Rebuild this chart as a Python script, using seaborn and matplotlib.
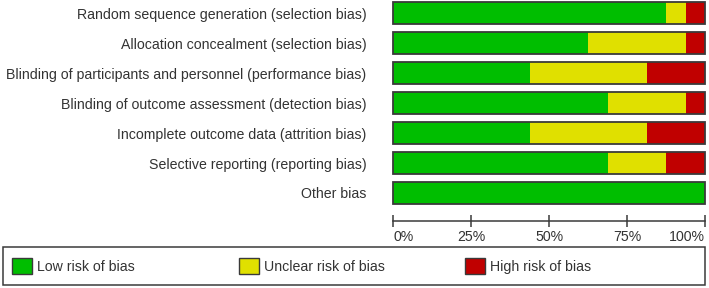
import numpy as np
import pandas as pd
import matplotlib
matplotlib.use("Agg")
import matplotlib.pyplot as plt
import matplotlib.patches as mpatches
import seaborn as sns

# ================= DADOS =================
dominios = [
    "Random sequence generation (selection bias)",
    "Allocation concealment (selection bias)",
    "Blinding of participants and personnel (performance bias)",
    "Blinding of outcome assessment (detection bias)",
    "Incomplete outcome data (attrition bias)",
    "Selective reporting (reporting bias)",
    "Other bias",
]
# numero de estudos (n = 16) por julgamento
baixo = [14, 10, 7, 11, 7, 11, 16]
incerto = [1, 5, 6, 4, 6, 3, 0]
alto = [1, 1, 3, 1, 3, 2, 0]

categorias = ["Low risk of bias", "Unclear risk of bias", "High risk of bias"]
cores = ["#00BE00", "#E0E000", "#C00000"]
ticks = [0, 25, 50, 75, 100]

# ================= FIGURA =================
sns.set_theme(style="white")
plt.rcParams["font.family"] = ["Liberation Sans", "DejaVu Sans"]
COR_TEXTO = "#333333"
COR_BORDA = "#3a3a3a"
FONTE = 10.2

df = pd.DataFrame({"dominio": dominios, "baixo": baixo, "incerto": incerto, "alto": alto})
total = df[["baixo", "incerto", "alto"]].sum(axis=1)
df["p_baixo"] = df["baixo"] / total * 100
df["p_incerto"] = (df["baixo"] + df["incerto"]) / total * 100
df["p_total"] = (df["baixo"] + df["incerto"] + df["alto"]) / total * 100

fig = plt.figure(figsize=(7.09, 2.88), dpi=100)
ax = fig.add_axes([393 / 709, 1 - 208 / 288, 312 / 709, 210 / 288])

largura = 0.74
sns.barplot(data=df, x="p_total", y="dominio", orient="h", color=cores[2],
            saturation=1, width=largura, linewidth=0, ax=ax)
sns.barplot(data=df, x="p_incerto", y="dominio", orient="h", color=cores[1],
            saturation=1, width=largura, linewidth=0, ax=ax)
sns.barplot(data=df, x="p_baixo", y="dominio", orient="h", color=cores[0],
            saturation=1, width=largura, linewidth=0, ax=ax)
sns.barplot(data=df, x="p_total", y="dominio", orient="h", fill=False,
            edgecolor=COR_BORDA, width=largura, linewidth=1.3, ax=ax)
for p in ax.patches:
    p.set_clip_on(False)

ax.set_xlim(0, 100)
ax.set_ylim(6.5, -0.5)
ax.set_xlabel("")
ax.set_ylabel("")

for lado in ["top", "right", "left"]:
    ax.spines[lado].set_visible(False)
ax.spines["bottom"].set_position(("outward", 9))
ax.spines["bottom"].set_color(COR_BORDA)
ax.spines["bottom"].set_linewidth(1.1)

ax.set_xticks(ticks)
ax.set_xticklabels([f"{t}%" for t in ticks])
ax.tick_params(axis="x", bottom=True, direction="inout", length=9, width=1.1,
               color=COR_BORDA, labelsize=FONTE, labelcolor=COR_TEXTO, pad=2)
rotulos = ax.get_xticklabels()
rotulos[0].set_ha("left")
rotulos[-1].set_ha("right")
ax.tick_params(axis="y", left=False, length=0, pad=19, labelsize=FONTE, labelcolor=COR_TEXTO)

# caixa da legenda
fig.patches.append(mpatches.Rectangle((3 / 709, 3 / 288), 702 / 709, 38 / 288,
                                      transform=fig.transFigure, fill=False,
                                      edgecolor=COR_BORDA, linewidth=1.1))
posicoes_x = [9, 236, 462]
for cat, cor, px in zip(categorias, cores, posicoes_x):
    h = mpatches.Patch(facecolor=cor, edgecolor=COR_BORDA, linewidth=1, label=cat)
    leg = fig.legend(handles=[h], loc="center left", frameon=False,
                     bbox_to_anchor=(px / 709, 1 - 266 / 288),
                     handlelength=1.45, handleheight=1.45, handletextpad=0.35,
                     fontsize=FONTE, borderaxespad=0, borderpad=0.2)
    for t in leg.get_texts():
        t.set_color(COR_TEXTO)

fig.savefig("out.png", dpi=100)
